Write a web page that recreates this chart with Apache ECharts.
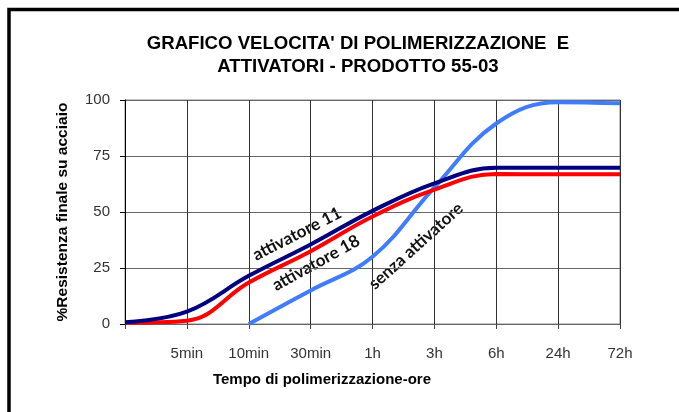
<!DOCTYPE html>
<html>
<head>
<meta charset="utf-8">
<script src="https://cdn.jsdelivr.net/npm/echarts@6/dist/echarts.min.js"></script>
<style>
html,body{margin:0;padding:0;background:#fff;}
#chart{width:679px;height:412px;}
</style>
</head>
<body>
<div id="chart"></div>
<script>
var categories = ['', '5min', '10min', '30min', '1h', '3h', '6h', '24h', '72h'];
var attivatore11 = [0.8, 5.5, 21.5, 35.5, 50.5, 62.8, 69.8, 69.8, 69.8];
var attivatore18 = [0.6, 1.5, 18.5, 32.5, 48, 60, 67, 66.8, 66.8];
var senzaAttivatore = [null, null, 0, 15, 30, 61, 89.5, 99, 98.5];
var yTicks = [0, 25, 50, 75, 100];

var sans = '"Liberation Sans", Arial, sans-serif';
var chart = echarts.init(document.getElementById('chart'));
chart.setOption({
  animation: false,
  backgroundColor: '#fff',
  title: {
    text: "GRAFICO VELOCITA' DI POLIMERIZZAZIONE  E\nATTIVATORI - PRODOTTO 55-03",
    left: 353,
    top: 27,
    textAlign: 'center',
    textStyle: {fontFamily: sans, fontSize: 18.6, fontWeight: 'bold', color: '#000', lineHeight: 23}
  },
  grid: {left: 125, right: 59, top: 100, bottom: 88, show: true, borderColor: '#888', borderWidth: 1},
  xAxis: {
    type: 'category',
    data: categories,
    boundaryGap: false,
    axisLine: {lineStyle: {color: '#666', width: 1}},
    axisTick: {show: true, length: 5, lineStyle: {color: '#444'}},
    axisLabel: {margin: 22, fontFamily: sans, fontSize: 15, color: '#333', interval: 0},
    splitLine: {show: true, lineStyle: {color: '#333', width: 1}}
  },
  yAxis: {
    type: 'value',
    min: 0, max: 100, interval: 25,
    name: '%Resistenza finale su acciaio',
    nameLocation: 'middle',
    nameGap: 54,
    nameRotate: 90,
    nameTextStyle: {fontFamily: sans, fontSize: 15.5, fontWeight: 'bold', color: '#000'},
    axisLine: {show: true, lineStyle: {color: '#000', width: 1}},
    axisTick: {show: true, length: 5, lineStyle: {color: '#000'}},
    axisLabel: {margin: 15, fontFamily: sans, fontSize: 15, color: '#333',
      formatter: function (v) { return yTicks.indexOf(v) >= 0 ? String(v) : ''; }},
    splitLine: {show: true, lineStyle: {color: '#666', width: 1}}
  },
  series: [
    {name: 'senza attivatore', type: 'line', data: senzaAttivatore, smooth: 0.4, symbol: 'none',
     lineStyle: {color: '#3f7cff', width: 4}, z: 3},
    {name: 'attivatore 18', type: 'line', data: attivatore18, smooth: 0.4, symbol: 'none',
     lineStyle: {color: '#ff0000', width: 4}, z: 4},
    {name: 'attivatore 11', type: 'line', data: attivatore11, smooth: 0.4, symbol: 'none',
     lineStyle: {color: '#000080', width: 4}, z: 5}
  ],
  graphic: [
    {type: 'rect', shape: {x: 9, y: 9.5, width: 1000, height: 1000}, style: {fill: 'none', stroke: '#000', lineWidth: 3.5}, silent: true},
    {type: 'text', x: 322, y: 380, style: {text: 'Tempo di polimerizzazione-ore', align: 'center', verticalAlign: 'middle',
      font: 'bold 15px "Liberation Sans", Arial, sans-serif', fill: '#000'}},
    {type: 'text', x: 297, y: 234, rotation: 27 * Math.PI / 180, style: {text: 'attivatore 11', align: 'center', verticalAlign: 'middle',
      font: 'bold 17px Lato, "Open Sans", sans-serif', fill: '#111'}},
    {type: 'text', x: 316, y: 263, rotation: 29 * Math.PI / 180, style: {text: 'attivatore 18', align: 'center', verticalAlign: 'middle',
      font: 'bold 17px Lato, "Open Sans", sans-serif', fill: '#111'}},
    {type: 'text', x: 416, y: 246, rotation: 42 * Math.PI / 180, style: {text: 'senza attivatore', align: 'center', verticalAlign: 'middle',
      font: 'bold 17px Lato, "Open Sans", sans-serif', fill: '#111'}}
  ]
});
</script>
</body>
</html>
